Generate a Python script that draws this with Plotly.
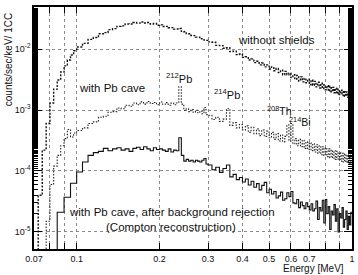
import math
import numpy as np
import plotly.graph_objects as go

# ---------------- data ----------------
# bin grid (left edges, MeV): 2.5 keV bins 0.07-0.1, 5 keV bins 0.1-0.3, 10 keV bins 0.3-1.0
EDGES_A = np.linspace(0.07, 0.10, 13)[:-1]
EDGES_B = np.linspace(0.10, 0.30, 41)[:-1]
EDGES_C = np.linspace(0.30, 1.00, 71)[:-1]
E_END = 1.0

EMPTY = 1e-8  # empty bin (drawn at the bottom of the log axis)

# counts/sec/keV/1cc
without_A = [4e-6, 4e-5, 2.2e-4, 6e-4, 1.3e-3, 2.2e-3, 3.1e-3, 4.2e-3, 5.3e-3, 6.6e-3, 8.0e-3, 9.4e-3]
without_B = [1.08e-2, 1.24e-2, 1.44e-2, 1.55e-2, 1.78e-2, 1.86e-2, 2.08e-2, 2.16e-2, 2.36e-2, 2.40e-2,
             2.58e-2, 2.57e-2, 2.72e-2, 2.66e-2, 2.78e-2, 2.68e-2, 2.72e-2, 2.58e-2, 2.62e-2, 2.46e-2,
             2.49e-2, 2.34e-2, 2.36e-2, 2.24e-2, 2.25e-2, 2.12e-2, 2.13e-2, 2.18e-2, 1.95e-2, 1.92e-2,
             1.79e-2, 1.78e-2, 1.67e-2, 1.66e-2, 1.57e-2, 1.57e-2, 1.48e-2, 1.47e-2, 1.40e-2, 1.39e-2]
without_C = [1.31e-2, 1.29e-2, 1.15e-2, 1.14e-2, 1.03e-2, 1.05e-2, 9.1e-3, 9.2e-3, 8.1e-3, 8.3e-3,
             7.3e-3, 7.5e-3, 6.6e-3, 6.9e-3, 6.0e-3, 6.3e-3, 5.5e-3, 5.9e-3, 5.1e-3, 5.5e-3,
             4.7e-3, 5.1e-3, 4.4e-3, 4.8e-3, 4.1e-3, 4.5e-3, 3.8e-3, 4.3e-3, 3.8e-3, 4.0e-3,
             3.4e-3, 3.8e-3, 3.2e-3, 3.7e-3, 3.0e-3, 3.5e-3, 2.9e-3, 3.3e-3, 2.8e-3, 3.2e-3,
             2.6e-3, 3.1e-3, 2.55e-3, 2.95e-3, 2.4e-3, 2.85e-3, 2.3e-3, 2.75e-3, 2.25e-3, 2.6e-3,
             2.15e-3, 2.5e-3, 2.05e-3, 2.45e-3, 1.98e-3, 2.35e-3, 1.92e-3, 2.28e-3, 1.85e-3, 2.2e-3,
             1.8e-3, 2.12e-3, 1.72e-3, 2.06e-3, 1.68e-3, 1.98e-3, 1.62e-3, 1.92e-3, 1.58e-3, 1.86e-3]

pbcave_A = [3e-6, 3e-6, 3e-6, 1.5e-5, 6e-5, 1.2e-4, 1.8e-4, 2.6e-4, 3.4e-4, 4.8e-4, 3.6e-4, 4.2e-4]
pbcave_B = [4.6e-4, 5.1e-4, 6.0e-4, 6.4e-4, 7.6e-4, 7.9e-4, 9.2e-4, 9.4e-4, 1.08e-3, 1.05e-3,
            1.2e-3, 1.15e-3, 1.3e-3, 1.22e-3, 1.36e-3, 1.25e-3, 1.38e-3, 1.28e-3, 1.33e-3, 1.22e-3,
            1.35e-3, 1.24e-3, 1.32e-3, 1.2e-3, 1.3e-3, 1.22e-3, 1.3e-3, 2.4e-3, 1.25e-3, 9.8e-4,
            1.05e-3, 9.4e-4, 1.02e-3, 9.2e-4, 9.9e-4, 9.0e-4, 9.6e-4, 8.7e-4, 1.1e-3, 8.4e-4]
pbcave_C = [8.2e-4, 7.0e-4, 7.6e-4, 6.5e-4, 7.1e-4, 1.05e-3, 5.6e-4, 6.2e-4, 5.1e-4, 5.8e-4,
            4.7e-4, 5.5e-4, 4.3e-4, 5.2e-4, 4.1e-4, 4.9e-4, 3.8e-4, 4.7e-4, 3.7e-4, 4.5e-4,
            3.5e-4, 4.3e-4, 3.3e-4, 4.1e-4, 3.1e-4, 3.9e-4, 3.0e-4, 3.7e-4, 5.7e-4, 3.1e-4,
            6.0e-4, 2.8e-4, 3.4e-4, 2.6e-4, 3.3e-4, 2.5e-4, 3.2e-4, 2.35e-4, 3.0e-4, 2.25e-4,
            2.9e-4, 2.15e-4, 2.8e-4, 2.05e-4, 2.7e-4, 1.95e-4, 2.6e-4, 1.85e-4, 2.5e-4, 1.8e-4,
            2.4e-4, 1.72e-4, 2.3e-4, 1.65e-4, 2.2e-4, 1.6e-4, 2.15e-4, 1.55e-4, 2.1e-4, 1.5e-4,
            2.0e-4, 1.45e-4, 1.95e-4, 1.4e-4, 1.9e-4, 1.38e-4, 1.85e-4, 1.34e-4, 1.8e-4, 1.3e-4]

compton_A = [EMPTY, EMPTY, EMPTY, EMPTY, EMPTY, EMPTY, 2.1e-5, 2.1e-5, 3.7e-5, 3.7e-5, 6.3e-5, 6.3e-5]
compton_B = [9.6e-5, 1.4e-4, 1.8e-4, 2.0e-4, 2.1e-4, 2.35e-4, 2.15e-4, 2.3e-4, 2.4e-4, 2.2e-4,
             2.3e-4, 2.1e-4, 2.35e-4, 2.45e-4, 2.25e-4, 2.5e-4, 2.3e-4, 2.15e-4, 2.4e-4, 2.25e-4,
             2.3e-4, 2.2e-4, 2.1e-4, 2.3e-4, 2.05e-4, 2.2e-4, 2.15e-4, 3.5e-4, 1.8e-4, 1.45e-4,
             1.55e-4, 1.45e-4, 1.5e-4, 1.4e-4, 1.5e-4, 1.45e-4, 1.4e-4, 1.5e-4, 1.6e-4, 1.3e-4]
compton_C = [1.25e-4, 1.05e-4, 1.15e-4, 9.5e-5, 1.1e-4, 1.25e-4, 8.0e-5, 8.8e-5, 7.2e-5, 7.8e-5,
             6.6e-5, 7.4e-5, 5.9e-5, 6.8e-5, 5.4e-5, 6.2e-5, 4.9e-5, 5.8e-5, 6.5e-5, 4.4e-5,
             5.0e-5, 4.2e-5, 4.6e-5, 3.6e-5, 3.9e-5, 4.5e-5, 3.3e-5, 3.5e-5, 4.4e-5, 3.8e-5,
             4.6e-5, 3.0e-5, 2.9e-5, 3.4e-5, 2.5e-5, 3.1e-5, 2.7e-5, 2.4e-5, 3.0e-5, 2.6e-5,
             2.3e-5, 2.9e-5, 2.2e-5, 2.4e-5, 3.2e-5, 1.6e-5, 2.5e-5, 2.2e-5, 3.3e-5, 1.4e-5,
             3.4e-5, 2.0e-5, 2.6e-5, 1.1e-5, 2.2e-5, 1.9e-5, 2.8e-5, 1.5e-5, 2.4e-5, 1.0e-5,
             2.0e-5, 1.7e-5, 2.5e-5, 1.2e-5, 1.6e-5, 2.2e-5, 1.1e-5, 1.8e-5, 1.3e-5, 2.1e-5]

X_TICKS = [0.07, 0.08, 0.09, 0.1, 0.2, 0.3, 0.4, 0.5, 0.6, 0.7, 0.8, 0.9, 1.0]
X_LABELS = ["0.07", "", "", "0.1", "0.2", "0.3", "0.4", "0.5", "0.6", "0.7", "", "", "1"]
Y_TICKS = [1e-5, 1e-4, 1e-3, 1e-2]
Y_LABELS = ["10<sup>-5</sup>", "10<sup>-4</sup>", "10<sup>-3</sup>", "10<sup>-2</sup>"]

# ---------------- figure ----------------
edges = list(EDGES_A) + list(EDGES_B) + list(EDGES_C) + [E_END]


def steps(a, b, c):
    vals = list(a) + list(b) + list(c)
    return vals + [vals[-1]]


FONT = "Liberation Sans, Arial, Helvetica, sans-serif"
fig = go.Figure()
fig.add_trace(go.Scatter(x=edges, y=steps(without_A, without_B, without_C), mode="lines",
                         line=dict(shape="hv", color="#111", width=1.4, dash="2px,1.5px"),
                         showlegend=False))
fig.add_trace(go.Scatter(x=edges, y=steps(pbcave_A, pbcave_B, pbcave_C), mode="lines",
                         line=dict(shape="hv", color="#222", width=1.1, dash="1.5px,1.5px"),
                         showlegend=False))
fig.add_trace(go.Scatter(x=edges, y=steps(compton_A, compton_B, compton_C), mode="lines",
                         line=dict(shape="hv", color="#111", width=1.1),
                         showlegend=False))

grid = dict(showgrid=True, gridcolor="#8a8a8a", griddash="dot", gridwidth=1)
fig.update_xaxes(type="log", range=[math.log10(0.07), 0.0], tickvals=X_TICKS, ticktext=X_LABELS,
                 ticks="inside", ticklen=6, tickcolor="black", mirror="allticks",
                 showline=True, linecolor="black", linewidth=1.5, zeroline=False,
                 tickfont=dict(family=FONT, size=9, color="#111"), **grid)
fig.update_yaxes(type="log", range=[-5.28, -1.31], tickvals=Y_TICKS, ticktext=Y_LABELS,
                 ticks="inside", ticklen=8, tickcolor="black", mirror="allticks",
                 minor=dict(ticks="inside", ticklen=4, tickcolor="black", showgrid=False),
                 showline=True, linecolor="black", linewidth=1.5, zeroline=False,
                 tickfont=dict(family=FONT, size=9, color="#111"), **grid)


def ann(text, e, v, size=11.5, **kw):
    fig.add_annotation(x=math.log10(e), y=math.log10(v), xref="x", yref="y", text=text,
                       showarrow=False, font=dict(family=FONT, size=size, color="#111"), **kw)


ann("without shields", 0.532, 1.41e-2)
ann("with Pb cave", 0.1346, 2.3e-3)
ann("<sup>212</sup>Pb", 0.235, 3.35e-3, size=11)
ann("<sup>214</sup>Pb", 0.352, 1.83e-3, size=11)
ann("<sup>208</sup>Th", 0.546, 1.0e-3, size=10.5)
ann("<sup>214</sup>Bi", 0.65, 6.6e-4, size=10.5)
ann("with Pb cave, after background rejection", 0.222, 2.15e-5)
ann("(Compton reconstruction)", 0.221, 1.22e-5)

fig.add_annotation(xref="paper", yref="paper", x=-26 / 321, y=(249 - 60) / 242,
                   text="counts/sec/keV/ 1CC", textangle=-90, showarrow=False,
                   xanchor="center", yanchor="middle",
                   font=dict(family=FONT, size=10, color="#111"))
fig.add_annotation(xref="paper", yref="paper", x=(349 - 34) / 321, y=-(268 - 249) / 242,
                   text="Energy [MeV]", showarrow=False, xanchor="right", yanchor="middle",
                   font=dict(family=FONT, size=10, color="#111"))

fig.update_layout(width=358, height=275, margin=dict(l=34, r=3, t=7, b=26),
                  paper_bgcolor="white", plot_bgcolor="white", showlegend=False)
fig.write_html("out.html")
